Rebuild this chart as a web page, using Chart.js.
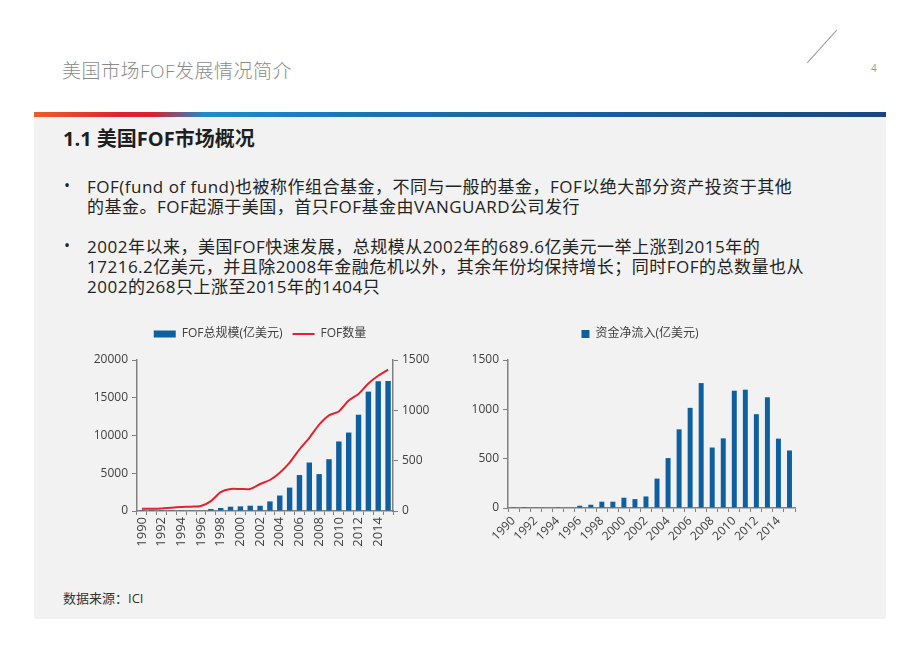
<!DOCTYPE html>
<html>
<head>
<meta charset="utf-8">
<script src="https://cdn.jsdelivr.net/npm/chart.js@4.4.1/dist/chart.umd.min.js"></script>
<style>
  body { margin: 0; background: #fff; font-family: "Open Sans", "Noto Sans CJK SC", sans-serif; }
  #page { position: relative; width: 920px; height: 651px; overflow: hidden; background: #fff; }
  .abs { position: absolute; white-space: nowrap; }
  #title { left: 62px; top: 56px; font-size: 19px; letter-spacing: 0.5px; color: #8a8a8a; font-weight: 300; }
  #slash { left: 800px; top: 46px; width: 44px; height: 1px; background: #9a9a9a; transform: rotate(-48deg); }
  #pageno { left: 871px; top: 61px; font-size: 10px; color: #999; }
  #band { left: 34px; top: 112px; width: 852px; height: 5px;
    background: linear-gradient(to right, #e8602a 0%, #dc2430 10%, #d9202f 14%, #1e8bd0 20%, #1a72b6 40%, #1a5a9c 70%, #1b4582 100%); }
  #panel { left: 34px; top: 117px; width: 852px; height: 502px; background: #f2f2f2; }
  #heading { left: 63px; top: 123px; font-size: 20px; font-weight: bold; color: #1f1f1f; }
  .bullet { left: 64px; font-size: 16px; color: #222; }
  .line { left: 87px; font-size: 17px; letter-spacing: 0.5px; color: #222; }
  #source { left: 63px; top: 588px; font-size: 13px; color: #333; }
  canvas { position: absolute; }
</style>
</head>
<body>
<div id="page">
  <div class="abs" id="panel"></div>
  <div class="abs" id="band"></div>
  <div class="abs" id="title">美国市场FOF发展情况简介</div>
  <div class="abs" id="slash"></div>
  <div class="abs" id="pageno">4</div>
  <div class="abs" id="heading">1.1 美国FOF市场概况</div>

  <div class="abs bullet" style="top:174px">•</div>
  <div class="abs line" style="top:173px">FOF(fund of fund)也被称作组合基金，不同与一般的基金，FOF以绝大部分资产投资于其他</div>
  <div class="abs line" style="top:193px">的基金。FOF起源于美国，首只FOF基金由VANGUARD公司发行</div>

  <div class="abs bullet" style="top:234px">•</div>
  <div class="abs line" style="top:233px">2002年以来，美国FOF快速发展，总规模从2002年的689.6亿美元一举上涨到2015年的</div>
  <div class="abs line" style="top:253px">17216.2亿美元，并且除2008年金融危机以外，其余年份均保持增长；同时FOF的总数量也从</div>
  <div class="abs line" style="top:273px">2002的268只上涨至2015年的1404只</div>

  <canvas id="chart1" width="340" height="245" style="left:90px; top:318px; width:340px; height:245px;"></canvas>
  <canvas id="chart2" width="340" height="245" style="left:470px; top:318px; width:340px; height:245px;"></canvas>

  <div class="abs" id="source">数据来源：ICI</div>
</div>

<script>
// data
var years = ['1990', '1991', '1992', '1993', '1994', '1995', '1996', '1997', '1998', '1999',
             '2000', '2001', '2002', '2003', '2004', '2005', '2006', '2007', '2008', '2009',
             '2010', '2011', '2012', '2013', '2014', '2015'];
var fofAssets = [5, 8, 12, 20, 30, 40, 60, 260, 400, 570, 610, 700, 689.6, 1270, 2050, 3100,
                 4760, 6420, 4890, 6860, 9210, 10390, 12750, 15810, 17200, 17216.2];
var fofCount = [23, 23, 26, 33, 39, 43, 49, 98, 187, 219, 219, 219, 268, 308, 380, 481,
                612, 727, 858, 950, 989, 1097, 1163, 1267, 1343, 1404];
var netFlow = [2, 1, 7, 5, 2, 5, 23, 33, 64, 64, 104, 90, 117, 298, 506, 797,
               1015, 1266, 613, 706, 1189, 1199, 951, 1122, 703, 583];

var BLUE = '#0d5fa0';
var RED = '#e0232f';
var AXIS = '#808080';
var FONT = '"Open Sans", "Noto Sans CJK SC", sans-serif';

Chart.defaults.font.family = FONT;
Chart.defaults.font.size = 12;
Chart.defaults.color = '#404040';
Chart.defaults.animation = false;

function everyOther(value, index) {
    return index % 2 === 0 ? years[index] : '';
}

function plain(value) {
    return String(value);
}

function fixSize(size, horizontal) {
    return function (scale) {
        if (horizontal) { scale.height = size; } else { scale.width = size; }
    };
}

// legend gets a little more room below it
var legendGap = {
    id: 'legendGap',
    beforeInit: function (chart) {
        var fit = chart.legend.fit;
        chart.legend.fit = function () {
            fit.bind(chart.legend)();
            this.height += 10;
        };
    }
};

var ctx1 = document.getElementById('chart1');
var ctx2 = document.getElementById('chart2');

new Chart(ctx1, {
    type: 'bar',
    data: {
        labels: years,
        datasets: [{
            label: 'FOF总规模(亿美元)',
            data: fofAssets,
            backgroundColor: BLUE,
            barPercentage: 1,
            categoryPercentage: 0.55,
            pointStyle: 'rect',
            yAxisID: 'y',
            order: 2
        },
        {
            type: 'line',
            label: 'FOF数量',
            data: fofCount,
            borderColor: RED,
            backgroundColor: RED,
            borderWidth: 2,
            pointRadius: 0,
            pointStyle: 'line',
            tension: 0.25,
            yAxisID: 'y1',
            order: 1
        }]
    },
    options: {
        responsive: false,
        layout: { padding: 0 },
        plugins: {
            legend: {
                labels: {
                    usePointStyle: true, pointStyleWidth: 22, boxHeight: 7, padding: 10, font: { size: 12 },
                    sort: function (a, b) { return a.datasetIndex - b.datasetIndex; }
                }
            },
            tooltip: { enabled: false }
        },
        scales: {
            x: {
                afterFit: fixSize(52, true),
                grid: { drawOnChartArea: false, color: AXIS, tickLength: 4, offset: true },
                border: { color: AXIS, width: 1.5 },
                ticks: { autoSkip: false, minRotation: 90, maxRotation: 90, padding: 2, font: { size: 13 }, callback: everyOther }
            },
            y: {
                position: 'left',
                min: 0, max: 20000,
                afterFit: fixSize(47, false),
                grid: { drawOnChartArea: false, color: AXIS, tickLength: 5 },
                border: { color: AXIS, width: 1.5 },
                ticks: { stepSize: 5000, padding: 4, callback: plain }
            },
            y1: {
                position: 'right',
                min: 0, max: 1500,
                afterFit: fixSize(37, false),
                grid: { drawOnChartArea: false, color: AXIS, tickLength: 5 },
                border: { color: AXIS, width: 1.5 },
                ticks: { stepSize: 500, padding: 4, callback: plain }
            }
        }
    },
    plugins: [legendGap]
});

new Chart(ctx2, {
    type: 'bar',
    data: {
        labels: years,
        datasets: [{
            label: '资金净流入(亿美元)',
            data: netFlow,
            backgroundColor: BLUE,
            barPercentage: 1,
            categoryPercentage: 0.45
        }]
    },
    options: {
        responsive: false,
        layout: { padding: 0 },
        plugins: {
            legend: {
                labels: { boxWidth: 8, boxHeight: 8, padding: 10, font: { size: 12 } }
            },
            tooltip: { enabled: false }
        },
        scales: {
            x: {
                afterFit: fixSize(55, true),
                grid: { drawOnChartArea: false, color: AXIS, tickLength: 4, offset: true },
                border: { color: AXIS, width: 1.5 },
                ticks: { autoSkip: false, minRotation: 45, maxRotation: 45, padding: 2, font: { size: 12 }, callback: everyOther }
            },
            y: {
                min: 0, max: 1500,
                afterFit: fixSize(38, false),
                grid: { drawOnChartArea: false, color: AXIS, tickLength: 5 },
                border: { color: AXIS, width: 1.5 },
                ticks: { stepSize: 500, padding: 4, callback: plain }
            },
            // empty spacer on the right so the legend stays centred
            spacer: {
                position: 'right',
                afterFit: fixSize(15, false),
                grid: { display: false },
                border: { display: false },
                ticks: { display: false }
            }
        }
    },
    plugins: [legendGap]
});
</script>
</body>
</html>
